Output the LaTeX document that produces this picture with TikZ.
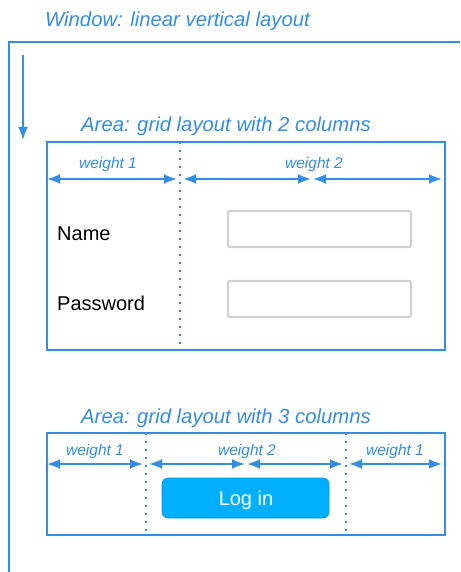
\documentclass[tikz,border=0pt]{standalone}
\usepackage{fontspec}
\setmainfont{Liberation Sans}
\usetikzlibrary{arrows.meta}
\definecolor{azul}{RGB}{52,140,228}
\definecolor{boton}{RGB}{0,176,255}
\definecolor{campo}{RGB}{208,208,208}
\tikzset{
	linea/.style={draw=azul, line width=2pt},
	columna/.style={draw=azul, line width=2pt, dash pattern=on 2pt off 6pt},
	medida/.style={draw=azul, line width=2pt, {Latex[length=13pt,width=10pt]}-{Latex[length=13pt,width=10pt]}},
	titulo/.style={anchor=base west, text=azul, font=\fontsize{20.3}{24}\selectfont\itshape, inner sep=0pt},
	peso/.style={anchor=base, text=azul, font=\fontsize{15.5}{18}\selectfont\itshape, inner sep=0pt},
	etiqueta/.style={anchor=base west, font=\fontsize{20}{24}\selectfont, inner sep=0pt},
}
\begin{document}
\begin{tikzpicture}[x=1pt, y=-1pt]
		\useasboundingbox (0,0) rectangle (460,572);
		% Ventana: disposición lineal vertical
		\node[titulo] (tventana) at (45,27) {Window: linear vertical layout};
		\draw[linea] (460,42) -- (9,42) -- (9,572);
		\coordinate (flechaA) at (23,55);
		\coordinate (flechaB) at (23,140);
		\draw[linea, -{Latex[length=13pt,width=10pt]}] (flechaA) -- (flechaB);
		% Área 1: rejilla de 2 columnas
		\node[titulo] (tarea1) at (81,132) {Area: grid layout with 2 columns};
		\draw[linea] (47,142) rectangle (445,350);
		\coordinate (c1a) at (180,142);
		\coordinate (c1b) at (180,350);
		\draw[columna] (c1a) -- (c1b);
		\coordinate (m1a) at (47,179);
		\coordinate (m1b) at (177,179);
		\coordinate (m1c) at (183,179);
		\coordinate (m1d) at (311,179);
		\coordinate (m1e) at (313,179);
		\coordinate (m1f) at (442,179);
		\draw[medida] (m1a) -- (m1b);
		\draw[medida] (m1c) -- (m1d);
		\draw[medida] (m1e) -- (m1f);
		\node[peso] (p11) at (108,168) {weight 1};
		\node[peso] (p12) at (314,168) {weight 2};
		% Etiquetas y campos de texto
		\node[etiqueta] (nombre) at (57,240) {Name};
		\node[etiqueta] (clave) at (57,310) {Password};
		\draw[campo, line width=2.2pt, fill=white, rounded corners=2pt] (228,211) rectangle (411,247);
		\draw[campo, line width=2.2pt, fill=white, rounded corners=2pt] (228,281) rectangle (411,317);
		% Área 2: rejilla de 3 columnas
		\node[titulo] (tarea2) at (81,423) {Area: grid layout with 3 columns};
		\draw[linea] (47,433) rectangle (445,535);
		\coordinate (c2a) at (146,433);
		\coordinate (c2b) at (146,535);
		\coordinate (c2c) at (346,433);
		\coordinate (c2d) at (346,535);
		\draw[columna] (c2a) -- (c2b);
		\draw[columna] (c2c) -- (c2d);
		\coordinate (m2a) at (47,464);
		\coordinate (m2b) at (143,464);
		\coordinate (m2c) at (149,464);
		\coordinate (m2d) at (245,464);
		\coordinate (m2e) at (247,464);
		\coordinate (m2f) at (343,464);
		\coordinate (m2g) at (349,464);
		\coordinate (m2h) at (442,464);
		\draw[medida] (m2a) -- (m2b);
		\draw[medida] (m2c) -- (m2d);
		\draw[medida] (m2e) -- (m2f);
		\draw[medida] (m2g) -- (m2h);
		\node[peso] (p21) at (95,455) {weight 1};
		\node[peso] (p22) at (247,455) {weight 2};
		\node[peso] (p23) at (395,455) {weight 1};
		% Botón de acceso
		\draw[fill=boton, draw=boton!85!black, line width=0.6pt, rounded corners=6pt] (162,478) rectangle (329,518);
		\node[anchor=base, text=white, font=\fontsize{20}{24}\selectfont, inner sep=0pt] (entrar) at (246,505) {Log in};
	\end{tikzpicture}
\end{document}
